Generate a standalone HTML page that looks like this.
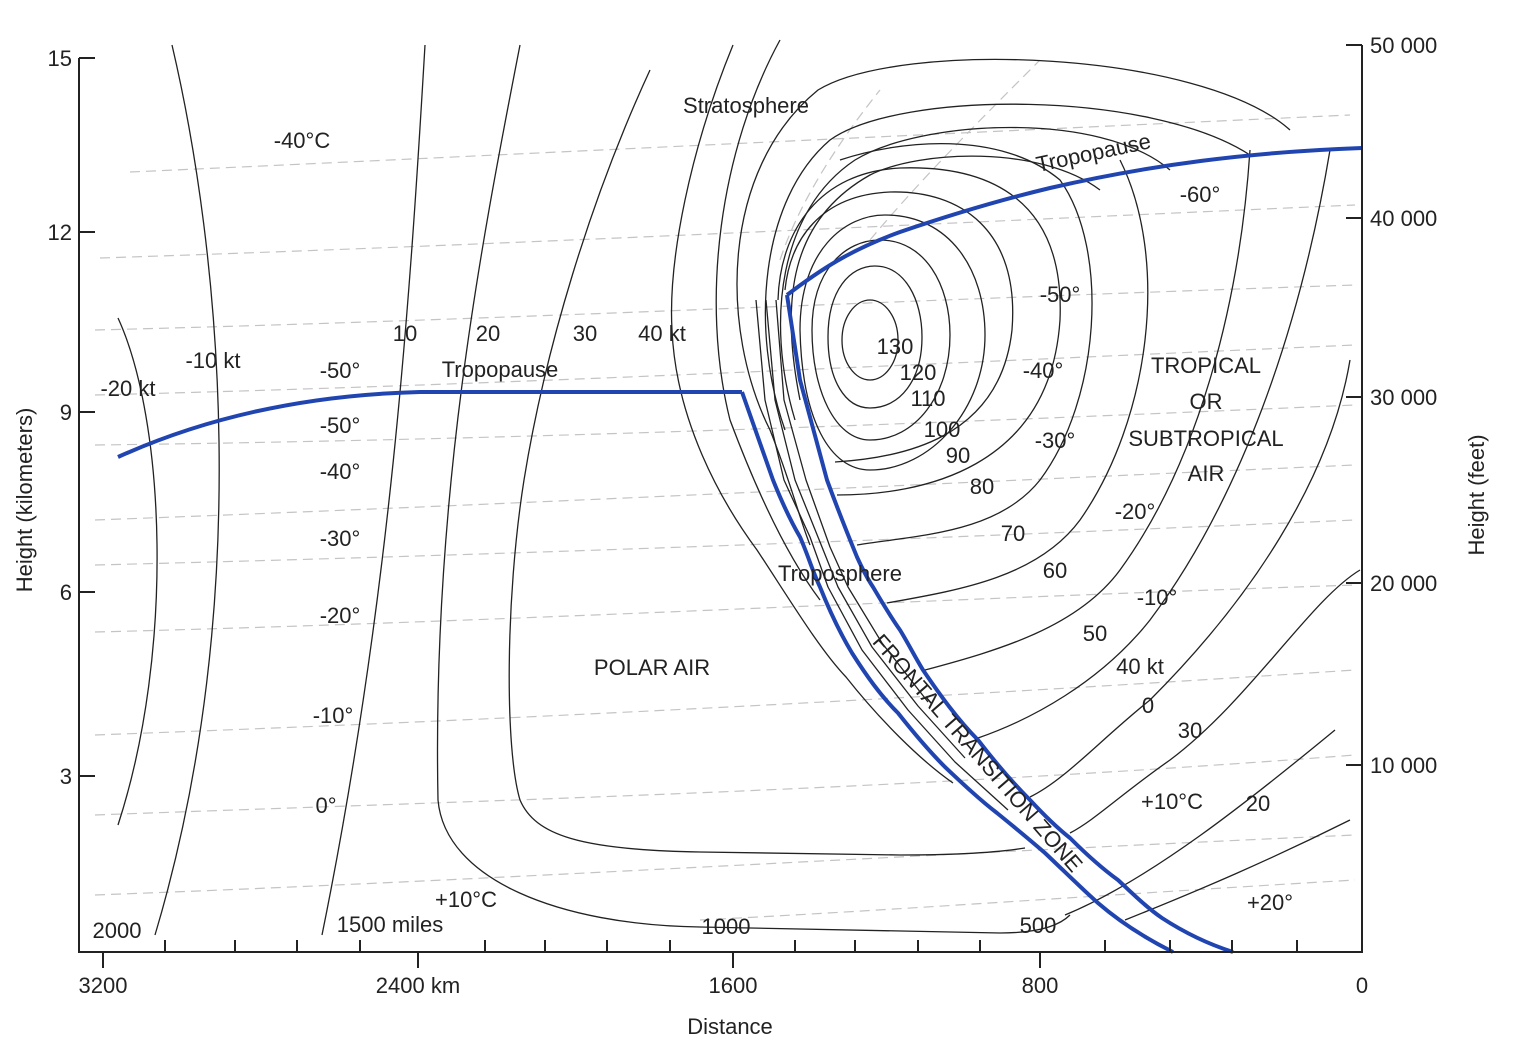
<!DOCTYPE html>
<html><head><meta charset="utf-8"><style>
html,body{margin:0;padding:0;background:#fff;}
svg{display:block;}
text{font-family:"Liberation Sans",sans-serif;fill:#222;font-size:22px;}
</style></head><body>
<svg width="1517" height="1052" viewBox="0 0 1517 1052" xmlns="http://www.w3.org/2000/svg">
<rect width="1517" height="1052" fill="#fff"/>
<g stroke="#c4c4c4" stroke-width="1.2" fill="none" stroke-dasharray="10,6">
<path d="M130,172 C400,160 800,140 1350,115"/>
<path d="M100,258 C500,245 900,225 1355,205"/>
<path d="M95,330 C500,320 900,300 1355,285"/>
<path d="M95,395 C500,385 900,365 1355,345"/>
<path d="M95,445 C500,440 900,425 1355,405"/>
<path d="M95,520 C500,505 900,485 1355,465"/>
<path d="M95,565 C500,555 900,540 1355,520"/>
<path d="M95,632 C500,622 900,600 1355,585"/>
<path d="M95,735 C500,720 900,700 1355,670"/>
<path d="M95,815 C500,800 900,790 1355,755"/>
<path d="M95,895 C500,880 900,855 1355,835"/>
<path d="M700,920 C900,910 1100,895 1355,880"/>
<path d="M870,240 C920,180 980,120 1040,60"/>
<path d="M780,260 C800,200 840,140 880,90"/>
</g>
<g stroke="#222" stroke-width="1.3" fill="none" stroke-linejoin="round">
<path d="M118,318 C165,420 175,650 118,825"/>
<path d="M172,45 C220,250 255,600 155,935"/>
<path d="M425,45 C410,300 390,600 322,935"/>
<path d="M520,45 C480,250 432,500 438,800 C445,880 560,925 700,927 L1000,933 C1040,933 1060,925 1070,915"/>
<path d="M650,70 C590,200 545,350 524,480 C505,600 505,750 520,800 C535,835 580,850 700,852 L900,855 C960,855 1000,852 1025,848"/>
<path d="M733,45 C690,150 668,260 672,330 C676,420 720,500 757,550 C790,600 820,650 846,677 C880,720 920,760 953,783"/>
<path d="M780,40 C720,150 700,300 730,420 C760,500 790,560 820,600"/>
<path d="M1290,130 C1200,50 900,40 818,90 C720,170 720,330 770,430 C790,480 800,520 810,545"/>
<path d="M1250,155 C1150,90 900,90 830,140 C760,200 750,330 785,430"/>
<path d="M1170,170 C1100,110 920,120 855,160 C780,210 765,320 795,420"/>
<path d="M1100,190 C1040,145 920,150 870,175 C790,220 780,300 800,400"/>
<path d="M870,340 m-28,0 a28,40 0 1,0 56,0 a28,40 0 1,0 -56,0"/>
<path d="M828,337 C828,290 850,266 875,266 C905,266 922,300 922,337 C922,380 900,408 870,408 C845,408 828,380 828,337Z"/>
<path d="M812,330 C812,270 845,240 880,240 C925,240 950,285 950,335 C950,395 915,440 870,440 C835,440 812,390 812,330Z"/>
<path d="M800,330 C800,250 845,215 885,215 C950,215 985,270 985,335 C985,410 930,470 870,470 C830,470 802,420 800,330Z"/>
<path d="M835,462 C900,458 1000,440 1012,330 C1020,230 960,190 890,192 C820,195 790,240 785,290"/>
<path d="M837,495 C920,495 1050,470 1060,320 C1065,200 990,165 900,168 C820,172 780,230 778,300"/>
<path d="M857,545 C920,535 998,533 1040,480 C1100,400 1110,250 1060,180 C1000,130 900,140 840,160"/>
<path d="M887,603 C960,590 1038,577 1080,520 C1150,420 1170,260 1120,160"/>
<path d="M925,670 C1000,650 1078,627 1120,570 C1200,460 1240,300 1250,150"/>
<path d="M978,738 C1030,720 1100,683 1150,620 C1240,500 1300,330 1330,150"/>
<path d="M1030,797 C1065,780 1100,740 1150,700 C1250,600 1330,480 1350,360"/>
<path d="M1070,833 C1095,820 1120,795 1170,760 C1250,700 1310,600 1360,570"/>
<path d="M1065,915 C1150,880 1250,800 1335,730"/>
<path d="M1125,920 C1200,890 1270,860 1350,820"/>
<polyline points="756,300 765,400 784,480 810,537 828,587 862,650 908,710 955,762 1008,810"/>
<polyline points="766,300 775,400 795,480 820,542 838,587 872,647 918,706 965,758"/>
<polyline points="776,300 784,400 806,480 830,547 848,587 882,643 928,702"/>
</g>
<g stroke="#2145b0" stroke-width="4" fill="none" stroke-linejoin="round">
<path d="M118,457 C200,420 300,395 420,392 L742,392"/>
<path d="M742,392 L773,480 C785,510 793,525 800,537 C808,555 812,570 820,587 C830,612 840,633 852,653 C866,675 880,695 898,713 C913,732 928,750 945,767 C962,783 980,800 997,813 C1013,826 1030,840 1045,853 C1063,870 1080,887 1098,903 C1120,922 1145,938 1173,952"/>
<path d="M787,295 L800,380 L827,480 C838,510 848,535 857,557 C862,568 867,578 873,587 C882,602 890,616 900,630 C908,643 915,657 923,670 C940,695 958,720 978,740 C995,762 1012,782 1030,800 C1043,814 1056,827 1070,838 C1085,853 1100,867 1118,880 C1132,893 1146,907 1162,918 C1185,933 1208,944 1233,952"/>
<path d="M787,295 C820,270 850,250 900,232 C950,215 1000,200 1050,188 C1150,165 1250,152 1362,148"/>
</g>
<g stroke="#222" stroke-width="2" fill="none">
<path d="M79,58 L79,952 L1362,952 L1362,45"/>
<path d="M79,58 L95,58 M79,232 L95,232 M79,412 L95,412 M79,592 L95,592 M79,776 L95,776"/>
<path d="M1362,45 L1346,45 M1362,218 L1346,218 M1362,397 L1346,397 M1362,583 L1346,583 M1362,765 L1346,765"/>
<path d="M103,952 V968 M418,952 V968 M733,952 V968 M1040,952 V968 M165,952V940 M235,952V940 M297,952V940 M360,952V940 M485,952V940 M545,952V940 M607,952V940 M670,952V940 M795,952V940 M855,952V940 M918,952V940 M980,952V940 M1105,952V940 M1170,952V940 M1232,952V940 M1297,952V940"/>
</g>
<g font-size="22">
<text x="72" y="66" text-anchor="end">15</text>
<text x="72" y="240" text-anchor="end">12</text>
<text x="72" y="420" text-anchor="end">9</text>
<text x="72" y="600" text-anchor="end">6</text>
<text x="72" y="784" text-anchor="end">3</text>
<text x="1370" y="53">50 000</text>
<text x="1370" y="226">40 000</text>
<text x="1370" y="405">30 000</text>
<text x="1370" y="591">20 000</text>
<text x="1370" y="773">10 000</text>
<text x="103" y="993" text-anchor="middle">3200</text>
<text x="418" y="993" text-anchor="middle">2400 km</text>
<text x="733" y="993" text-anchor="middle">1600</text>
<text x="1040" y="993" text-anchor="middle">800</text>
<text x="1362" y="993" text-anchor="middle">0</text>
<text x="730" y="1034" text-anchor="middle">Distance</text>
<text transform="translate(32,500) rotate(-90)" text-anchor="middle">Height (kilometers)</text>
<text transform="translate(1484,495) rotate(-90)" text-anchor="middle">Height (feet)</text>
<text x="746" y="113" text-anchor="middle" font-size="24">Stratosphere</text>
<text x="302" y="148" text-anchor="middle">-40°C</text>
<text transform="translate(1095,160) rotate(-12)" text-anchor="middle" font-size="24">Tropopause</text>
<text x="1200" y="202" text-anchor="middle">-60°</text>
<text x="1060" y="302" text-anchor="middle">-50°</text>
<text x="895" y="354" text-anchor="middle">130</text>
<text x="918" y="380" text-anchor="middle">120</text>
<text x="928" y="406" text-anchor="middle">110</text>
<text x="942" y="437" text-anchor="middle">100</text>
<text x="958" y="463" text-anchor="middle">90</text>
<text x="982" y="494" text-anchor="middle">80</text>
<text x="1013" y="541" text-anchor="middle">70</text>
<text x="1055" y="578" text-anchor="middle">60</text>
<text x="1095" y="641" text-anchor="middle">50</text>
<text x="1140" y="674" text-anchor="middle">40 kt</text>
<text x="1148" y="713" text-anchor="middle">0</text>
<text x="1190" y="738" text-anchor="middle">30</text>
<text x="1258" y="811" text-anchor="middle">20</text>
<text x="1172" y="809" text-anchor="middle">+10°C</text>
<text x="1270" y="910" text-anchor="middle">+20°</text>
<text x="1043" y="378" text-anchor="middle">-40°</text>
<text x="1055" y="448" text-anchor="middle">-30°</text>
<text x="1135" y="519" text-anchor="middle">-20°</text>
<text x="1157" y="605" text-anchor="middle">-10°</text>
<g font-size="25" text-anchor="middle">
<text x="1206" y="373">TROPICAL</text>
<text x="1206" y="409">OR</text>
<text x="1206" y="446">SUBTROPICAL</text>
<text x="1206" y="481">AIR</text>
<text x="652" y="675">POLAR AIR</text>
</g>
<g font-size="24" text-anchor="middle">
<text x="405" y="341">10</text>
<text x="488" y="341">20</text>
<text x="585" y="341">30</text>
<text x="662" y="341">40 kt</text>
<text x="213" y="368">-10 kt</text>
<text x="128" y="396">-20 kt</text>
<text x="500" y="377">Tropopause</text>
<text x="840" y="581">Troposphere</text>
</g>
<text x="340" y="378" text-anchor="middle">-50°</text>
<text x="340" y="433" text-anchor="middle">-50°</text>
<text x="340" y="479" text-anchor="middle">-40°</text>
<text x="340" y="546" text-anchor="middle">-30°</text>
<text x="340" y="623" text-anchor="middle">-20°</text>
<text x="333" y="723" text-anchor="middle">-10°</text>
<text x="326" y="813" text-anchor="middle">0°</text>
<text x="466" y="907" text-anchor="middle">+10°C</text>
<text x="390" y="932" text-anchor="middle">1500 miles</text>
<text x="117" y="938" text-anchor="middle">2000</text>
<text x="726" y="934" text-anchor="middle">1000</text>
<text x="1038" y="933" text-anchor="middle">500</text>
<text transform="translate(972,758) rotate(49)" text-anchor="middle" font-size="20">FRONTAL TRANSITION ZONE</text>
</g>
</svg>
</body></html>
